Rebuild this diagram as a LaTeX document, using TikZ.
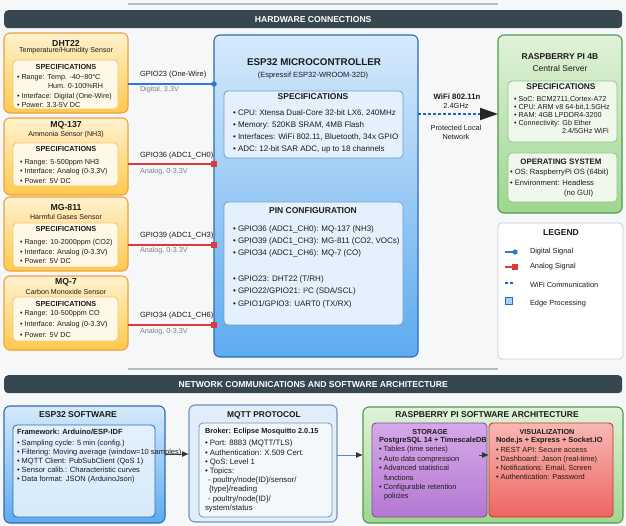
\documentclass[tikz,border=0pt]{standalone}
\usepackage{fontspec}
\setmainfont{Liberation Sans}
\usetikzlibrary{arrows.meta}
\definecolor{bgc}{HTML}{F6F7F9}
\definecolor{hdrc}{HTML}{37474F}
\definecolor{txtc}{HTML}{1C1C1C}
\definecolor{sTop}{HTML}{FFF2CF}
\definecolor{sBot}{HTML}{FFC94C}
\definecolor{sBrd}{HTML}{EFA23A}
\definecolor{siFill}{HTML}{FFF8E6}
\definecolor{siBrd}{HTML}{F2C476}
\definecolor{eTop}{HTML}{D6EAFB}
\definecolor{eBot}{HTML}{5DAAEF}
\definecolor{eBrd}{HTML}{2B6CB8}
\definecolor{eiFill}{HTML}{E4F0FC}
\definecolor{eiBrd}{HTML}{6C9ED6}
\definecolor{gTop}{HTML}{E0F2D8}
\definecolor{gBot}{HTML}{9ED68E}
\definecolor{gBrd}{HTML}{4E9A4E}
\definecolor{giFill}{HTML}{F0F8EC}
\definecolor{giBrd}{HTML}{8CC58A}
\definecolor{legBrd}{HTML}{C8CCD0}
\definecolor{mFill}{HTML}{E1EDF9}
\definecolor{mBrd}{HTML}{6F93BE}
\definecolor{miFill}{HTML}{F3F8FD}
\definecolor{pTop}{HTML}{D6A9E8}
\definecolor{pBot}{HTML}{B478D2}
\definecolor{pBrd}{HTML}{7E4A9E}
\definecolor{rTop}{HTML}{F8B8B4}
\definecolor{rBot}{HTML}{EE6560}
\definecolor{rBrd}{HTML}{C0392B}
\definecolor{digc}{HTML}{2C7BD0}
\definecolor{anac}{HTML}{E0393A}
\definecolor{wific}{HTML}{1E66C0}
\definecolor{linec}{HTML}{B8BCC0}
\definecolor{subc}{HTML}{808080}
\newcommand\fs[2]{\fontsize{#1}{#2}\selectfont}
\begin{document}
\begin{tikzpicture}[x=1pt,y=-1pt,
  boxbase/.style 2 args={draw, anchor=north west, inner sep=0, outer sep=0, minimum width=#1, minimum height=#2},
  sbox/.style 2 args={boxbase={#1}{#2}, rounded corners=6pt, top color=sTop, bottom color=sBot, draw=sBrd, line width=1.1pt},
  ibox/.style 2 args={boxbase={#1}{#2}, rounded corners=4pt, fill=siFill, draw=siBrd, line width=0.8pt},
  ebox/.style 2 args={boxbase={#1}{#2}, rounded corners=6pt, top color=eTop, bottom color=eBot, draw=eBrd, line width=1.1pt},
  eibox/.style 2 args={boxbase={#1}{#2}, rounded corners=4pt, fill=eiFill, draw=eiBrd, line width=0.8pt},
  gbox/.style 2 args={boxbase={#1}{#2}, rounded corners=6pt, top color=gTop, bottom color=gBot, draw=gBrd, line width=1.1pt},
  gibox/.style 2 args={boxbase={#1}{#2}, rounded corners=4pt, fill=giFill, draw=giBrd, line width=0.8pt},
  lbox/.style 2 args={boxbase={#1}{#2}, rounded corners=4pt, fill=white, draw=legBrd, line width=0.8pt},
  mbox/.style 2 args={boxbase={#1}{#2}, rounded corners=6pt, fill=mFill, draw=mBrd, line width=1.1pt},
  mibox/.style 2 args={boxbase={#1}{#2}, rounded corners=4pt, fill=miFill, draw=mBrd, line width=0.8pt},
  pbox/.style 2 args={boxbase={#1}{#2}, rounded corners=4pt, top color=pTop, bottom color=pBot, draw=pBrd, line width=0.9pt},
  rbox/.style 2 args={boxbase={#1}{#2}, rounded corners=4pt, top color=rTop, bottom color=rBot, draw=rBrd, line width=0.9pt},
  hbar/.style={anchor=north west, inner sep=0, minimum width=618pt, minimum height=18pt, rounded corners=4pt, fill=hdrc, text=white, font=\bfseries\fs{8.6}{10}},
  txt/.style={inner sep=0, outer sep=0, text=txtc},
  tl/.style={txt, anchor=west, align=left},
  tc/.style={txt, anchor=center, align=center},
  digl/.style={draw=digc, line width=1.2pt},
  anal/.style={draw=anac, line width=1.2pt},
  dotn/.style={circle, fill=digc, minimum size=5.5pt, inner sep=0},
  sqn/.style={fill=anac, minimum size=5.5pt, inner sep=0},
  wifil/.style={draw=wific, line width=1.8pt, dash pattern=on 3pt off 2pt},
  arr/.style={draw=black!75, line width=1pt, -{Latex[length=7pt,width=6pt,color=black!80]}},
]
\useasboundingbox (0,0) rectangle (626,526);
\fill[bgc] (0,0) rectangle (626,526);

% decorative lines and headers
\draw[linec, line width=1.5pt] (128,4) -- (498,4);
\draw[linec, line width=1.5pt] (128,369) -- (498,369);
\node[hbar] (hdr1) at (4,10) {HARDWARE CONNECTIONS};
\node[hbar] (hdr2) at (4,375) {NETWORK COMMUNICATIONS AND SOFTWARE ARCHITECTURE};

% ---------------- sensors
\node[sbox={124pt}{80pt}] (dht) at (4,33) {};
\node[tc, font=\bfseries\fs{8.7}{10}] (dhtT) at (66,43) {DHT22};
\node[tc, font=\fs{7.1}{8}] (dhtS) at (66,51) {Temperature/Humidity Sensor};
\node[ibox={105pt}{49pt}] (dhtI) at (13,60) {};
\node[tc, font=\bfseries\fs{7.3}{8}] (dhtIT) at (66,67) {SPECIFICATIONS};
\node[tl, font=\fs{7.2}{9.33}] (dhtB) at (17,91) {• Range: Temp. -40\textasciitilde80°C\\\hspace*{31pt}Hum. 0-100\%RH\\• Interface: Digital (One-Wire)\\• Power: 3.3-5V DC};

\node[sbox={124pt}{77pt}] (mqa) at (4,118) {};
\node[tc, font=\bfseries\fs{8.7}{10}] (mqaT) at (66,125) {MQ-137};
\node[tc, font=\fs{7.1}{8}] (mqaS) at (66,135) {Ammonia Sensor (NH3)};
\node[ibox={105pt}{43pt}] (mqaI) at (13,143) {};
\node[tc, font=\bfseries\fs{7.3}{8}] (mqaIT) at (66,149) {SPECIFICATIONS};
\node[tl, font=\fs{7.2}{9.5}] (mqaB) at (20,171.5) {• Range: 5-500ppm NH3\\• Interface: Analog (0-3.3V)\\• Power: 5V DC};

\node[sbox={124pt}{74pt}] (mgb) at (4,197) {};
\node[tc, font=\bfseries\fs{8.7}{10}] (mgbT) at (66,208) {MG-811};
\node[tc, font=\fs{7.1}{8}] (mgbS) at (66,217) {Harmful Gases Sensor};
\node[ibox={105pt}{44pt}] (mgbI) at (13,223) {};
\node[tc, font=\bfseries\fs{7.3}{8}] (mgbIT) at (66,229) {SPECIFICATIONS};
\node[tl, font=\fs{7.2}{9.5}] (mgbB) at (20,251.5) {• Range: 10-2000ppm (CO2)\\• Interface: Analog (0-3.3V)\\• Power: 5V DC};

\node[sbox={124pt}{74pt}] (mqc) at (4,276) {};
\node[tc, font=\bfseries\fs{8.7}{10}] (mqcT) at (66,282) {MQ-7};
\node[tc, font=\fs{7.1}{8}] (mqcS) at (66,292) {Carbon Monoxide Sensor};
\node[ibox={105pt}{44pt}] (mqcI) at (13,297) {};
\node[tc, font=\bfseries\fs{7.3}{8}] (mqcIT) at (66,304) {SPECIFICATIONS};
\node[tl, font=\fs{7.2}{10.8}] (mqcB) at (20,324) {• Range: 10-500ppm CO\\• Interface: Analog (0-3.3V)\\• Power: 5V DC};

% ---------------- ESP32
\node[ebox={204pt}{322pt}] (esp) at (214,35) {};
\node[tc, font=\bfseries\fs{9.8}{11}] (espT) at (314,62) {ESP32 MICROCONTROLLER};
\node[tc, font=\fs{7.5}{9}] (espS) at (313,76) {(Espressif ESP32-WROOM-32D)};
\node[eibox={179pt}{67pt}] (espSp) at (224,91) {};
\node[tc, font=\bfseries\fs{8.5}{10}] (espSpT) at (313,97) {SPECIFICATIONS};
\node[tl, font=\fs{8}{12}] (espSpB) at (233,131) {• CPU: Xtensa Dual-Core 32-bit LX6, 240MHz\\• Memory: 520KB SRAM, 4MB Flash\\• Interfaces: WiFi 802.11, Bluetooth, 34x GPIO\\• ADC: 12-bit SAR ADC, up to 18 channels};
\node[eibox={179pt}{123pt}] (pin) at (224,202) {};
\node[tc, font=\bfseries\fs{8.5}{10}] (pinT) at (313,211) {PIN CONFIGURATION};
\node[tl, font=\fs{8}{12.3}] (pinB) at (233,266.5) {• GPIO36 (ADC1\_CH0): MQ-137 (NH3)\\• GPIO39 (ADC1\_CH3): MG-811 (CO2, VOCs)\\• GPIO34 (ADC1\_CH6): MQ-7 (CO)\\[13.5pt]• GPIO23: DHT22 (T/RH)\\• GPIO22/GPIO21: I²C (SDA/SCL)\\• GPIO1/GPIO3: UART0 (TX/RX)};

% ---------------- sensor connections
\coordinate (p23) at (214,84);
\coordinate (p36) at (214,164);
\coordinate (p39) at (214,245);
\coordinate (p34) at (214,325);
\draw[digl] (dht.east |- p23) -- (p23);
\draw[anal] (mqa.east |- p36) -- (p36);
\draw[anal] (mgb.east |- p39) -- (p39);
\draw[anal] (mqc.east |- p34) -- (p34);
\node[dotn] (d23) at (p23) {};
\node[sqn] (s36) at (p36) {};
\node[sqn] (s39) at (p39) {};
\node[sqn] (s34) at (p34) {};
\node[tl, font=\fs{7.5}{9}] (l23) at (140,75) {GPIO23 (One-Wire)};
\node[tl, font=\fs{7.2}{9}, text=subc] (l23b) at (140,90) {Digital, 3.3V};
\node[tl, font=\fs{7.5}{9}] (l36) at (140,156) {GPIO36 (ADC1\_CH0)};
\node[tl, font=\fs{7.2}{9}, text=subc] (l36b) at (140,172) {Analog, 0-3.3V};
\node[tl, font=\fs{7.5}{9}] (l39) at (140,236) {GPIO39 (ADC1\_CH3)};
\node[tl, font=\fs{7.2}{9}, text=subc] (l39b) at (140,251) {Analog, 0-3.3V};
\node[tl, font=\fs{7.5}{9}] (l34) at (140,316) {GPIO34 (ADC1\_CH6)};
\node[tl, font=\fs{7.2}{9}, text=subc] (l34b) at (140,332) {Analog, 0-3.3V};

% ---------------- Raspberry Pi
\node[gbox={124pt}{178pt}] (rpi) at (498,35) {};
\node[tc, font=\bfseries\fs{8.5}{10}] (rpiT) at (560,57) {RASPBERRY PI 4B};
\node[tc, font=\fs{8.5}{10}] (rpiS) at (560,68) {Central Server};
\node[gibox={109pt}{61pt}] (rpiSp) at (508,81) {};
\node[tc, font=\bfseries\fs{8.3}{10}] (rpiSpT) at (561,87) {SPECIFICATIONS};
\node[tl, font=\fs{7.2}{8}] (rpiSpB) at (514,115) {• SoC: BCM2711,Cortex-A72\\• CPU: ARM v8 64-bit,1.5GHz\\• RAM: 4GB LPDDR4-3200\\• Connectivity: Gb Ether\\\hspace*{48pt}2.4/5GHz WiFi};
\node[gibox={109pt}{49pt}] (os) at (508,153) {};
\node[tc, font=\bfseries\fs{7.9}{10}] (osT) at (561,162) {OPERATING SYSTEM};
\node[tl, font=\fs{7.6}{10.5}] (osB) at (510,183.5) {• OS: RaspberryPi OS (64bit)\\• Environment: Headless\\\hspace*{54pt}(no GUI)};

% ---------------- WiFi link
\coordinate (wf) at (418,114);
\draw[wifil, -{Triangle[length=18pt,width=12pt,color=black!85]}] (wf) -- (rpi.west |- wf);
\node[tc, font=\bfseries\fs{7.8}{9}] (wifiT) at (457,97) {WiFi 802.11n};
\node[tc, font=\fs{7.4}{9}] (wifiF) at (456,106) {2.4GHz};
\node[tc, font=\fs{7.3}{9}] (wifiB) at (456,132.5) {Protected Local\\Network};

% ---------------- Legend
\node[lbox={125pt}{136pt}] (leg) at (498,223) {};
\node[tc, font=\bfseries\fs{8.6}{10}] (legT) at (561,233) {LEGEND};
\draw[digl] (505,252) -- (513,252);
\fill[digc] (515,252) circle (2.6pt);
\node[tl, font=\fs{7.4}{9}] (legD) at (530,252) {Digital Signal};
\draw[anal] (505,267) -- (512,267);
\fill[anac] (512,264.3) rectangle (517.5,269.7);
\node[tl, font=\fs{7.4}{9}] (legA) at (530,267) {Analog Signal};
\draw[draw=wific, line width=1.2pt, dash pattern=on 3pt off 2pt] (505,283) -- (514,283);
\node[tl, font=\fs{7.4}{9}] (legW) at (530,285) {WiFi Communication};
\draw[fill=eTop!60!eBot, draw=eBrd, line width=0.7pt] (505,297) rectangle (512,304);
\node[tl, font=\fs{7.4}{9}] (legE) at (530,304) {Edge Processing};

% ---------------- ESP32 software
\node[ebox={161pt}{117pt}] (esw) at (4,406) {};
\node[tc, font=\bfseries\fs{8.6}{10}] (eswT) at (78,415) {ESP32 SOFTWARE};
\node[boxbase={142pt}{92pt}, rounded corners=4pt, top color=eiFill, bottom color=eTop, draw=eBrd, line width=0.8pt] (eswI) at (13,425) {};
\node[tl, font=\bfseries\fs{7.5}{9}] (eswF) at (17,432) {Framework: Arduino/ESP-IDF};
\node[tl, font=\fs{7.5}{9}] (eswB) at (17,462) {• Sampling cycle: 5 min (config.)\\• Filtering: Moving average (window=10 samples)\\• MQTT Client: PubSubClient (QoS 1)\\• Sensor calib.: Characteristic curves\\• Data format: JSON (ArduinoJson)};

% ---------------- MQTT
\node[mbox={148pt}{117pt}] (mqtt) at (189,405) {};
\node[tc, font=\bfseries\fs{8.4}{10}] (mqttT) at (264,415) {MQTT PROTOCOL};
\node[mibox={133pt}{94pt}] (mqttI) at (199,423) {};
\node[tl, font=\bfseries\fs{7.3}{9}] (mqttBr) at (205,432) {Broker: Eclipse Mosquitto 2.0.15};
\node[tl, font=\fs{7.8}{9.2}] (mqttB) at (205,476) {• Port: 8883 (MQTT/TLS)\\• Authentication: X.509 Cert.\\• QoS: Level 1\\• Topics:\\\hspace*{3pt}- poultry/node\{ID\}/sensor/\\\hspace*{4pt}\{type\}/reading\\\hspace*{3pt}- poultry/node\{ID\}/\\system/status};

% ---------------- Raspberry Pi software
\node[gbox={260pt}{116pt}] (rsw) at (363,407) {};
\node[tc, font=\bfseries\fs{8.5}{10}] (rswT) at (487,415) {RASPBERRY PI SOFTWARE ARCHITECTURE};
\node[pbox={115pt}{94pt}] (sto) at (372,423) {};
\node[tc, font=\bfseries\fs{7.2}{9}] (stoT) at (430,432) {STORAGE};
\node[tl, font=\bfseries\fs{7.4}{9}] (stoS) at (379,441) {PostgreSQL 14 + TimescaleDB};
\node[tl, font=\fs{7.4}{9.4}] (stoB) at (379,473.5) {• Tables (time series)\\• Auto data compression\\• Advanced statistical\\\hspace*{5pt}functions\\• Configurable retention\\\hspace*{5pt}policies};
\node[rbox={124pt}{94pt}] (viz) at (489,423) {};
\node[tc, font=\bfseries\fs{7.2}{9}] (vizT) at (547,432) {VISUALIZATION};
\node[tl, font=\bfseries\fs{7.4}{9}] (vizS) at (496,441) {Node.js + Express + Socket.IO};
\node[tl, font=\fs{7.4}{9}] (vizB) at (496,463.5) {• REST API: Secure access\\• Dashboard: Jason (real-time)\\• Notifications: Email, Screen\\• Authentication: Password};

% ---------------- software arrows
\coordinate (a1) at (165,454);
\coordinate (a2) at (337,455);
\coordinate (a3) at (479,455);
\draw[arr] (a1) -- (mqtt.west |- a1);
\draw[arr, draw=eBrd!80] (a2) -- (rsw.west |- a2);
\draw[arr] (a3) -- (viz.west |- a3);
\end{tikzpicture}
\end{document}
